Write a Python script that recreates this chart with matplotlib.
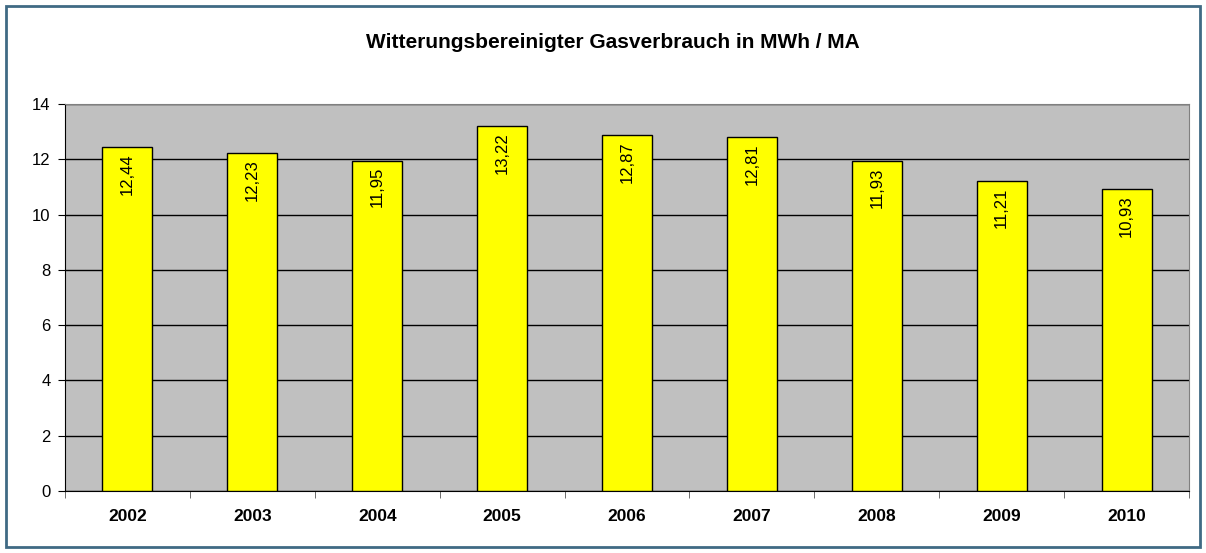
import matplotlib.pyplot as plt
from matplotlib.patches import Rectangle

years = ['2002', '2003', '2004', '2005', '2006', '2007', '2008', '2009', '2010']
values = [12.44, 12.23, 11.95, 13.22, 12.87, 12.81, 11.93, 11.21, 10.93]
labels = ['12,44', '12,23', '11,95', '13,22', '12,87', '12,81', '11,93', '11,21', '10,93']

plt.rcParams['font.family'] = ['Liberation Sans', 'DejaVu Sans']

fig = plt.figure(figsize=(12.06, 5.53), dpi=100)
ax = fig.add_axes([65 / 1206, 62 / 553, 1124 / 1206, 387 / 553])
ax.set_facecolor('#C0C0C0')

# outer frame
fig.patches.append(Rectangle((6 / 1206, 6 / 553), 1194 / 1206, 541 / 553,
                             transform=fig.transFigure, fill=False,
                             edgecolor='#406A84', linewidth=2))

x = range(len(years))
ax.set_axisbelow(True)
ax.yaxis.grid(True, color='black', linewidth=1)
bars = ax.bar(x, values, width=0.4, color='#FFFF00', edgecolor='black', linewidth=1, zorder=3)

for b, lab in zip(bars, labels):
    ax.annotate(lab, (b.get_x() + b.get_width() / 2, b.get_height()),
                xytext=(0, -4.5), textcoords='offset points',
                rotation=90, ha='center', va='top', fontsize=12, zorder=4)

ax.set_xlim(-0.5, len(years) - 0.5)
ax.set_ylim(0, 14)
ax.set_yticks(range(0, 15, 2))
ax.set_xticks(x)
ax.set_xticklabels(years, fontweight='bold', fontsize=12.5)
ax.set_xticks([i - 0.5 for i in range(len(years) + 1)], minor=True)
ax.tick_params(axis='x', which='major', length=0, pad=13)
ax.tick_params(axis='x', which='minor', length=5, direction='out', color='#555555')
ax.tick_params(axis='y', length=5, direction='out', labelsize=12, pad=5.5)

ax.spines['top'].set_color('#808080')
ax.spines['right'].set_color('#808080')
ax.spines['left'].set_color('black')
ax.spines['bottom'].set_color('black')

fig.text(613 / 1206, 1 - 43 / 553, 'Witterungsbereinigter Gasverbrauch in MWh / MA',
         ha='center', va='center', fontweight='bold', fontsize=15)

fig.savefig('out.png', dpi=100)
